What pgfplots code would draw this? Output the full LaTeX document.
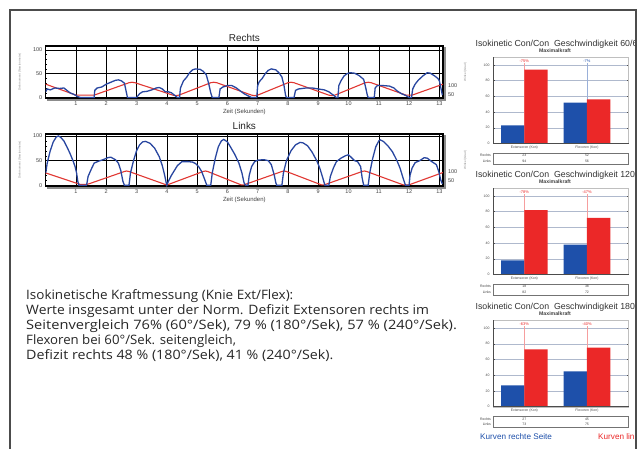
\documentclass[border=0pt]{standalone}
\usepackage{fontspec}
\setmainfont{Liberation Sans}
\newfontfamily\bodyfont{Open Sans}
\usepackage{graphicx}
\usepackage{pgfplots}
\pgfplotsset{compat=1.18}
\definecolor{cblue}{RGB}{40,70,160}
\definecolor{cred}{RGB}{225,55,50}
\definecolor{bblue}{RGB}{30,80,170}
\definecolor{bred}{RGB}{235,40,40}
\definecolor{gridblue}{RGB}{175,185,205}
\pgfplotsset{
 linechart/.style={scale only axis, width=397.3bp, height=52bp, xmin=0, xmax=13.12,
  xtick={1,...,13}, ytick={0,50,100}, minor y tick num=4,
  xmajorgrids, ymajorgrids, major grid style={black, line width=0.5pt},
  axis line style={black, line width=1.1pt},
  xtick style={draw=none}, ytick style={black, line width=0.4pt},
  minor tick style={black, line width=0.3pt},
  major tick length=2bp, minor tick length=1.5bp,
  ticklabel style={font=\fontsize{5.5}{6}\selectfont, text=black!75},
  /pgf/number format/assume math mode=true,
  xlabel={Zeit (Sekunden)}, xlabel style={font=\fontsize{6}{6}\selectfont, text=black!75, yshift=3bp},
  title style={font=\fontsize{10}{10}\selectfont, text=black!85, yshift=-5bp},
  ylabel style={font=\fontsize{3}{3}\selectfont, text=black!45}, ylabel shift=5bp,
 },
 rightaxis/.style={scale only axis, width=397.3bp, height=52bp, axis x line=none, axis y line*=right,
  xmin=0, xmax=1, ytick={50,100}, tick align=outside, axis line style={draw=none},
  ytick style={black, line width=0.4pt}, major tick length=2.5bp,
  yticklabel style={font=\fontsize{5.5}{6}\selectfont, text=black!75, xshift=-1bp},
  /pgf/number format/assume math mode=true,
  ylabel={Winkel (Grad)}, ylabel style={font=\fontsize{3}{3}\selectfont, text=black!45},
 },
 barchart/.style={scale only axis, width=135.6bp, height=86.5bp, clip=false,
  xmin=-0.5, xmax=1.665, ymin=0, ymax=110,
  xtick={0,1}, xticklabels={Extensoren (Kon), Flexoren (Kon)}, xtick style={draw=none},
  ytick={0,20,...,100}, minor y tick num=3, ymajorgrids,
  major grid style={gridblue, line width=0.4pt},
  axis line style={black!25, line width=0.4pt},
  ytick style={black!70, line width=0.3pt}, major tick length=1.5bp, minor tick length=1bp,
  ticklabel style={font=\fontsize{3.5}{4}\selectfont, text=black!70},
  xticklabel style={yshift=1bp},
  /pgf/number format/assume math mode=true,
 },
}
\newcommand{\tinyf}{\fontsize{3.5}{4}\selectfont}
\newcommand{\barpanel}[9]{%
\begin{axis}[barchart, at={(493bp,-#1bp)}, anchor=south west]
\node[anchor=west, font=\fontsize{8.8}{9}\selectfont, text=black!80, inner sep=0] at (axis cs:-0.78,126) {Isokinetic Con/Con\ \ Geschwindigkeit #2};
\node[font=\bfseries\fontsize{5.2}{6}\selectfont, text=black!75, inner sep=0] at (axis cs:0.49,118.5) {Maximalkraft};
\draw[bred!45, line width=0.35pt] (axis cs:0,0) -- (axis cs:0,102);
\draw[#9!45, line width=0.35pt] (axis cs:1,0) -- (axis cs:1,102);
\node[text=bred, font=\fontsize{4}{4}\selectfont, inner sep=0] at (axis cs:0,105) {#7};
\node[text=#9, font=\fontsize{4}{4}\selectfont, inner sep=0] at (axis cs:1,105) {#8};
\addplot[ybar, bar width=0.372, bar shift=-0.186, fill=bblue, draw=none] coordinates {(0,#3) (1,#5)};
\addplot[ybar, bar width=0.372, bar shift=0.186, fill=bred, draw=none] coordinates {(0,#4) (1,#6)};
\draw[black!70, line width=0.5pt] (rel axis cs:0,1) -- (rel axis cs:0,0) -- (rel axis cs:1,0);
\draw[black!55, line width=0.4pt] (axis cs:-0.5,-12) rectangle (axis cs:1.665,-26.5);
\node[anchor=east, font=\tinyf, text=black!75, inner sep=0] at (axis cs:-0.53,-15.5) {Rechts};
\node[anchor=east, font=\tinyf, text=black!75, inner sep=0] at (axis cs:-0.53,-22.8) {Links};
\node[font=\tinyf, text=black!75, inner sep=0] at (axis cs:0,-15.5) {#3};
\node[font=\tinyf, text=black!75, inner sep=0] at (axis cs:1,-15.5) {#5};
\node[font=\tinyf, text=black!75, inner sep=0] at (axis cs:0,-22.8) {#4};
\node[font=\tinyf, text=black!75, inner sep=0] at (axis cs:1,-22.8) {#6};
\end{axis}}
\begin{document}
\begin{tikzpicture}
\useasboundingbox (0,0) rectangle (641bp,-449bp);
\fill[white] (0,0) rectangle (641bp,-449bp);

% ---------- Rechts ----------
\begin{axis}[linechart, name=rechts, at={(45.7bp,-46bp)}, anchor=north west,
  ymin=-1, ymax=108, title={Rechts}, ylabel={Drehmoment (Newtonmeter)}]
\addplot[cred, line width=1.1pt] coordinates {(0,28)(1.0,5)(1.6,5)(2.75,31)(2.85,32)(2.95,31)(4.2,5)(4.3,4)(4.4,5)(5.45,31)(5.55,32)(5.65,31)(6.8,5)(6.9,4)(7.0,5)(8.0,31)(8.1,32)(8.2,31)(9.35,5)(9.45,4)(9.55,5)(10.55,31)(10.65,32)(10.75,31)(11.9,5)(12.1,5)(13.12,28)};
\addplot[cblue, line width=1.3pt] coordinates {(0,12)(0.05,18)(0.15,16)(0.3,20)(0.45,19)(0.6,20)(0.7,15)(0.8,10)(0.95,6)(1.05,2)(1.15,0)(1.6,0)(1.62,15)(1.7,20)(1.85,22)(2.0,28)(2.15,32)(2.3,36)(2.4,37)(2.5,35)(2.6,30)(2.65,15)(2.7,0)(3.0,0)(3.1,8)(3.2,12)(3.35,13)(3.5,16)(3.65,20)(3.75,21)(3.85,18)(3.95,12)(4.05,12)(4.15,10)(4.25,5)(4.35,0)(4.42,0)(4.45,20)(4.55,35)(4.65,42)(4.75,52)(4.85,58)(4.95,60)(5.1,59)(5.2,55)(5.3,48)(5.38,30)(5.45,10)(5.5,0)(5.72,0)(5.76,18)(5.85,22)(6.0,25)(6.15,25)(6.3,20)(6.4,15)(6.55,8)(6.7,3)(6.8,0)(6.97,0)(7.0,25)(7.05,33)(7.15,40)(7.25,50)(7.35,57)(7.45,60)(7.6,58)(7.7,52)(7.8,43)(7.87,25)(7.92,5)(7.95,0)(8.2,0)(8.25,15)(8.35,18)(8.6,20)(8.8,20)(9.0,18)(9.2,16)(9.35,12)(9.5,5)(9.6,0)(9.65,0)(9.68,25)(9.75,35)(9.85,45)(9.95,50)(10.05,52)(10.2,51)(10.35,46)(10.5,38)(10.57,20)(10.62,5)(10.65,0)(10.85,0)(10.88,20)(10.95,25)(11.15,25)(11.35,24)(11.5,20)(11.6,14)(11.75,8)(11.9,4)(12.0,0)(12.08,0)(12.12,18)(12.2,28)(12.3,36)(12.45,45)(12.6,52)(12.7,51)(12.85,45)(12.95,40)(13.0,35)(13.05,20)(13.1,5)};
\end{axis}
\begin{axis}[rightaxis, at={(45.7bp,-46bp)}, anchor=north west, ymin=32.2, ymax=322]
\addplot[draw=none] coordinates {(0.5,100)};
\end{axis}
\draw[black!45, line width=1.2bp] ([xshift=2bp,yshift=-1bp]rechts.north east) -- ([xshift=2bp,yshift=-2bp]rechts.south east) -- ([xshift=1bp,yshift=-2bp]rechts.south west);

% ---------- Links ----------
\begin{axis}[linechart, name=links, at={(45.7bp,-134bp)}, anchor=north west,
  ymin=-1.4, ymax=104, title={Links}, ylabel={Drehmoment (Newtonmeter)}]
\addplot[cred, line width=1.1pt] coordinates {(0,25)(1.13,2)(1.38,2)(2.6,28)(2.67,29)(2.75,28)(3.98,1)(4.02,1)(5.2,28)(5.27,29)(5.35,28)(6.45,1)(6.55,1)(7.8,28)(7.87,29)(7.95,28)(9.1,1)(9.2,1)(10.45,28)(10.52,29)(10.6,28)(11.8,1)(12.0,1)(13.12,26)};
\addplot[cblue, line width=1.3pt] coordinates {(0,25)(0.05,45)(0.15,70)(0.25,88)(0.35,98)(0.42,100)(0.5,97)(0.6,90)(0.7,78)(0.8,65)(0.9,50)(0.97,38)(1.02,25)(1.06,8)(1.1,0)(1.35,0)(1.4,18)(1.5,32)(1.6,45)(1.75,49)(1.9,52)(2.05,56)(2.15,57)(2.3,52)(2.4,45)(2.48,30)(2.55,8)(2.6,0)(2.75,0)(2.8,25)(2.9,50)(3.0,70)(3.1,82)(3.2,88)(3.3,89)(3.45,85)(3.6,75)(3.75,58)(3.85,40)(3.93,20)(3.98,5)(4.0,0)(4.05,8)(4.15,20)(4.25,30)(4.35,40)(4.5,48)(4.7,48)(4.85,47)(4.95,44)(5.05,38)(5.15,28)(5.25,12)(5.32,0)(5.45,0)(5.5,25)(5.6,55)(5.7,78)(5.8,90)(5.88,93)(6.0,88)(6.1,78)(6.25,62)(6.38,45)(6.48,25)(6.55,5)(6.6,0)(6.68,0)(6.72,20)(6.8,38)(6.9,48)(7.0,51)(7.2,52)(7.35,50)(7.45,42)(7.55,20)(7.6,5)(7.63,0)(7.8,0)(7.85,25)(7.95,50)(8.1,70)(8.25,82)(8.4,87)(8.5,86)(8.65,80)(8.8,67)(8.95,50)(9.05,35)(9.15,15)(9.22,0)(9.35,0)(9.4,18)(9.5,35)(9.6,48)(9.75,55)(9.9,60)(10.0,62)(10.1,56)(10.2,50)(10.3,48)(10.4,38)(10.45,15)(10.5,0)(10.65,0)(10.7,25)(10.8,55)(10.9,78)(11.0,90)(11.05,92)(11.15,89)(11.3,80)(11.45,68)(11.6,50)(11.7,35)(11.8,15)(11.88,0)(12.0,0)(12.03,20)(12.1,35)(12.2,46)(12.35,50)(12.5,56)(12.6,55)(12.75,48)(12.9,42)(12.98,28)(13.05,10)(13.1,3)};
\end{axis}
\begin{axis}[rightaxis, at={(45.7bp,-134bp)}, anchor=north west, ymin=22.4, ymax=310.4]
\addplot[draw=none] coordinates {(0.5,100)};
\end{axis}
\draw[black!45, line width=1.2bp] ([xshift=2bp,yshift=-1bp]links.north east) -- ([xshift=2bp,yshift=-2bp]links.south east) -- ([xshift=1bp,yshift=-2bp]links.south west);

% ---------- bar panels ----------
\begin{scope}
\clip (0,0) rectangle (635bp,-449bp);
\barpanel{143.5}{60/60}{23}{94}{52}{56}{-75\%}{-7\%}{bblue}
\barpanel{274.5}{120/120}{18}{82}{38}{72}{-78\%}{-47\%}{bred}
\barpanel{406.7}{180/180}{27}{73}{45}{75}{-63\%}{-40\%}{bred}
\node[anchor=base west, font=\fontsize{8.2}{9}\selectfont, text=bblue, inner sep=0] at (480bp,-439bp) {Kurven rechte Seite};
\node[anchor=base west, font=\fontsize{8.2}{9}\selectfont, text=bred, inner sep=0] at (598bp,-439bp) {Kurven linke Seite};
\end{scope}

% ---------- text ----------
\begin{scope}[every node/.style={anchor=base west, inner sep=0, font=\bodyfont\fontsize{13}{15}\selectfont, text=black!85}]
\node at (26bp,-299.5bp) {\scalebox{1.04}[1]{Isokinetische Kraftmessung (Knie Ext/Flex):}};
\node at (26bp,-314.5bp) {\scalebox{1.07}[1]{Werte insgesamt unter der Norm. Defizit Extensoren rechts im}};
\node at (26bp,-329.5bp) {\scalebox{1.13}[1]{Seitenvergleich 76\% (60°/Sek), 79 \% (180°/Sek), 57 \% (240°/Sek).}};
\node at (26bp,-344.5bp) {\scalebox{1.02}[1]{Flexoren bei 60°/Sek. seitengleich,}};
\node at (26bp,-359.5bp) {\scalebox{1.10}[1]{Defizit rechts 48 \% (180°/Sek), 41 \% (240°/Sek).}};
\end{scope}

% outer frame
\draw[black!70, line width=1.2bp] (10bp,-449bp) -- (10bp,-10bp) -- (636bp,-10bp) -- (636bp,-449bp);
\end{tikzpicture}
\end{document}
